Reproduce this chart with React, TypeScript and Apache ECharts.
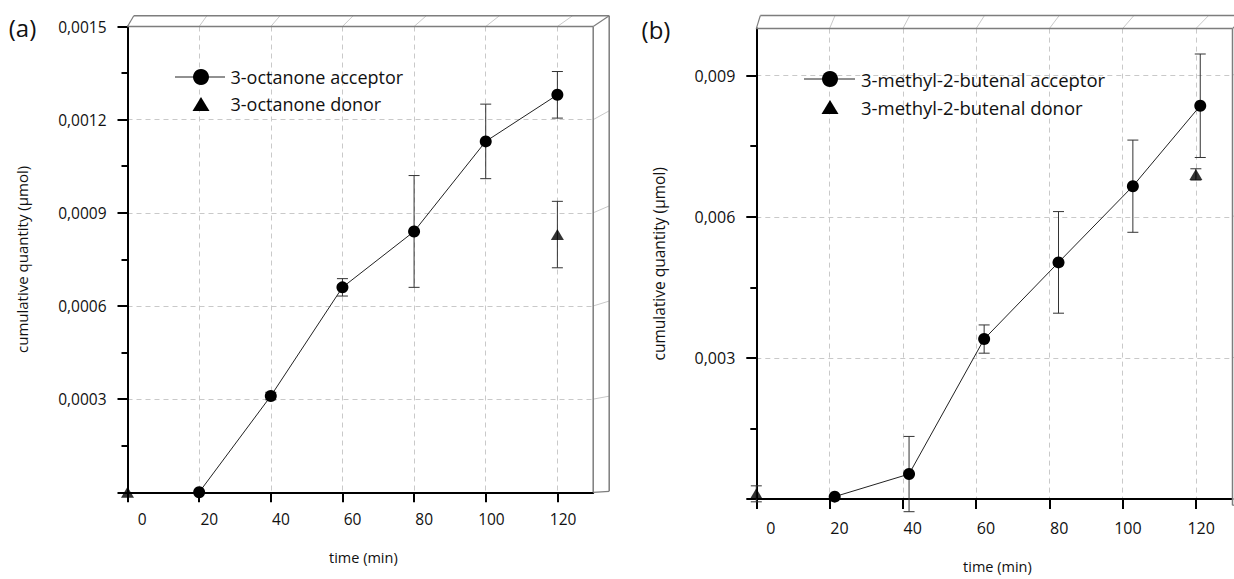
import React, { useEffect, useRef } from "react";
import * as echarts from "echarts";

const FONT = '"Open Sans", "Noto Sans", "DejaVu Sans", sans-serif';

// ---------- data ----------
const timeTicks = [0, 20, 40, 60, 80, 100, 120];

// panel (a): 3-octanone
const aAcceptorTime = [20, 40, 60, 80, 100, 120];
const aAcceptorQty = [0, 0.00031, 0.00066, 0.00084, 0.00113, 0.00128];
const aAcceptorErr = [0, 0.000012, 0.000028, 0.00018, 0.00012, 0.000075];
const aDonorTime = [0, 120];
const aDonorQty = [0, 0.00083];
const aDonorErr = [0, 0.000107];
const aYTicks = [0, 0.0003, 0.0006, 0.0009, 0.0012, 0.0015];
const aYLabels = ["", "0,0003", "0,0006", "0,0009", "0,0012", "0,0015"];

// panel (b): 3-methyl-2-butenal
const bAcceptorTime = [21.4, 41.7, 62.2, 82.5, 102.8, 121.2];
const bAcceptorQty = [0.00005, 0.00053, 0.0034, 0.00503, 0.00665, 0.00836];
const bAcceptorErr = [0, 0.0008, 0.0003, 0.00108, 0.00098, 0.0011];
const bDonorTime = [0, 120];
const bDonorQty = [0.00011, 0.0069];
const bDonorErr = [0.00017, 0.00012];
const bYTicks = [0, 0.003, 0.006, 0.009];
const bYLabels = ["", "0,003", "0,006", "0,009"];

const xTitle = "time (min)";
const yTitle = "cumulative quantity (µmol)";

// ---------- layout ----------
const panels = [
  {
    tag: "(a)",
    tagPos: [22.5, 27],
    grid: { left: 127.5, top: 26.5, width: 465.7, height: 465.8 },
    yMax: 0.0015,
    yInterval: 0.0003,
    yTicks: aYTicks,
    yLabels: aYLabels,
    accT: aAcceptorTime,
    accQ: aAcceptorQty,
    accE: aAcceptorErr,
    donT: aDonorTime,
    donQ: aDonorQty,
    donE: aDonorErr,
    accName: "3-octanone acceptor",
    donName: "3-octanone donor",
    legend: { x0: 175, x1: 225, cx: 201, y1: 77, y2: 104, tx: 230.5, fs: 18 },
    depth: { dx0: 6.3, dx1: 16, dy0: -10.8, dy1: -1 },
    tickFont: 15.5,
    yTitleFont: 15,
    yGap: 98,
    xGap: 58,
    xLabelMargin: 19,
  },
  {
    tag: "(b)",
    tagPos: [656, 29],
    grid: { left: 756.3, top: 28.6, width: 476.2, height: 476.7 },
    yMax: 0.01,
    yInterval: 0.003,
    yTicks: bYTicks,
    yLabels: bYLabels,
    accT: bAcceptorTime,
    accQ: bAcceptorQty,
    accE: bAcceptorErr,
    donT: bDonorTime,
    donQ: bDonorQty,
    donE: bDonorErr,
    accName: "3-methyl-2-butenal acceptor",
    donName: "3-methyl-2-butenal donor",
    legend: { x0: 804, x1: 855, cx: 830, y1: 79, y2: 107, tx: 861, fs: 18.5 },
    depth: { dx0: 4, dx1: 13.4, dy0: -13, dy1: -1 },
    tickFont: 16,
    yTitleFont: 15.5,
    yGap: 89,
    xGap: 60,
    xLabelMargin: 21,
  },
];

function buildOption() {
  const grids: any[] = [];
  const xAxes: any[] = [];
  const yAxes: any[] = [];
  const series: any[] = [];
  panels.forEach((p, i) => {
    grids.push({ ...p.grid, containLabel: false });
    xAxes.push({
      type: "value",
      gridIndex: i,
      min: 0,
      max: 130,
      interval: 20,
      axisLine: { show: true, onZero: false, lineStyle: { color: "#000", width: 2 } },
      axisTick: { show: true, length: 10, lineStyle: { color: "#000", width: 2 }, customValues: timeTicks },
      axisLabel: {
        customValues: timeTicks,
        align: "left",
        margin: p.xLabelMargin,
        color: "#111",
        fontFamily: FONT,
        fontSize: p.tickFont,
        formatter: (v: number) => (timeTicks.indexOf(v) >= 0 ? `{r|${v}}` : ""),
        rich: { r: { width: 19, align: "right", fontFamily: FONT, fontSize: p.tickFont, color: "#111" } },
      },
      splitLine: { show: true, lineStyle: { color: "#c9c9c9", width: 1, type: [5, 4] } },
      name: xTitle,
      nameLocation: "middle",
      nameGap: p.xGap,
      nameTextStyle: { color: "#111", fontFamily: FONT, fontSize: 14.5, padding: [0, 0, 0, 6] },
    });
    yAxes.push({
      type: "value",
      gridIndex: i,
      min: 0,
      max: p.yMax,
      interval: p.yInterval,
      axisLine: { show: true, onZero: false, lineStyle: { color: "#000", width: 2 } },
      axisTick: { show: true, length: 10, lineStyle: { color: "#000", width: 2 }, customValues: p.yTicks },
      minorTick: { show: true, splitNumber: 2, length: 6, lineStyle: { color: "#000", width: 2 } },
      axisLabel: {
        customValues: p.yTicks,
        margin: 21,
        color: "#111",
        fontFamily: FONT,
        fontSize: p.tickFont,
        formatter: (v: number) => {
          const k = p.yTicks.findIndex((t) => Math.abs(t - v) < 1e-9);
          return k >= 0 ? p.yLabels[k] : "";
        },
      },
      splitLine: { show: true, lineStyle: { color: "#c9c9c9", width: 1, type: [5, 4] } },
      name: yTitle,
      nameLocation: "middle",
      nameGap: p.yGap,
      nameRotate: 90,
      nameTextStyle: { color: "#111", fontFamily: FONT, fontSize: p.yTitleFont },
    });
    const errData = [
      ...p.accT.map((t, k) => [t, p.accQ[k], p.accE[k]]),
      ...p.donT.map((t, k) => [t, p.donQ[k], p.donE[k]]),
    ];
    series.push({
      type: "custom",
      xAxisIndex: i,
      yAxisIndex: i,
      clip: false,
      z: 3,
      silent: true,
      encode: { x: 0, y: 1 },
      data: errData,
      renderItem: (params: any, api: any) => {
        const x = api.value(0);
        const y = api.value(1);
        const e = api.value(2);
        if (!e) return { type: "group", children: [] };
        const top = api.coord([x, y + e]);
        const bot = api.coord([x, y - e]);
        const hw = 5.5;
        const style = { stroke: "#333", lineWidth: 1 };
        return {
          type: "group",
          children: [
            { type: "line", shape: { x1: top[0], y1: top[1], x2: bot[0], y2: bot[1] }, style },
            { type: "line", shape: { x1: top[0] - hw, y1: top[1], x2: top[0] + hw, y2: top[1] }, style },
            { type: "line", shape: { x1: bot[0] - hw, y1: bot[1], x2: bot[0] + hw, y2: bot[1] }, style },
          ],
        };
      },
    });
    series.push({
      type: "line",
      name: p.accName,
      xAxisIndex: i,
      yAxisIndex: i,
      clip: false,
      z: 5,
      symbol: "circle",
      symbolSize: 12,
      itemStyle: { color: "#000" },
      lineStyle: { color: "#222", width: 1 },
      data: p.accT.map((t, k) => [t, p.accQ[k]]),
    });
    series.push({
      type: "scatter",
      name: p.donName,
      xAxisIndex: i,
      yAxisIndex: i,
      clip: false,
      z: 5,
      symbol: "triangle",
      symbolSize: [13, 11],
      itemStyle: { color: "#000" },
      data: p.donT.map((t, k) => [t, p.donQ[k]]),
    });
  });
  return {
    animation: false,
    backgroundColor: "#fff",
    grid: grids,
    xAxis: xAxes,
    yAxis: yAxes,
    series,
  };
}

function buildGraphic(chart: any) {
  const els: any[] = [];
  panels.forEach((p, i) => {
    const g = p.grid;
    const L = g.left;
    const T = g.top;
    const R = g.left + g.width;
    const B = g.top + g.height;
    const d = p.depth;
    const back = (x: number, y: number) => [
      x + d.dx0 + ((x - L) / g.width) * (d.dx1 - d.dx0),
      y + d.dy0 + ((y - T) / g.height) * (d.dy1 - d.dy0),
    ];
    const line = (a: number[], b: number[], stroke: string, w: number) =>
      els.push({
        type: "line",
        silent: true,
        z: 1,
        shape: { x1: a[0], y1: a[1], x2: b[0], y2: b[1] },
        style: { stroke, lineWidth: w },
      });
    timeTicks.slice(1).forEach((t) => {
      const px = chart.convertToPixel({ gridIndex: i }, [t, 0])[0];
      line([px, T], back(px, T), "#c9c9c9", 1);
    });
    p.yTicks.slice(1).forEach((v) => {
      if (v >= p.yMax - 1e-12) return;
      const py = chart.convertToPixel({ gridIndex: i }, [0, v])[1];
      line([R, py], back(R, py), "#c9c9c9", 1);
    });
    const edge = "#7d7d7d";
    line([L, T], [R, T], edge, 1.5);
    line([R, T], [R, B], edge, 1.5);
    line(back(L, T), back(R, T), edge, 1.5);
    line(back(R, T), back(R, B), edge, 1.5);
    line([L, T], back(L, T), edge, 1.2);
    line([R, T], back(R, T), edge, 1.2);
    line([R, B], back(R, B), edge, 1.2);

    // legend
    const lg = p.legend;
    els.push({
      type: "line",
      z: 10,
      shape: { x1: lg.x0, y1: lg.y1, x2: lg.x1, y2: lg.y1 },
      style: { stroke: "#222", lineWidth: 1 },
    });
    els.push({ type: "circle", z: 11, shape: { cx: lg.cx, cy: lg.y1, r: 8 }, style: { fill: "#000" } });
    els.push({
      type: "polygon",
      z: 11,
      shape: {
        points: [
          [lg.cx, lg.y2 - 7],
          [lg.cx - 8.5, lg.y2 + 7],
          [lg.cx + 8.5, lg.y2 + 7],
        ],
      },
      style: { fill: "#000" },
    });
    [
      [p.accName, lg.y1],
      [p.donName, lg.y2],
    ].forEach(([txt, y]) =>
      els.push({
        type: "text",
        z: 11,
        x: lg.tx,
        y: y as number,
        style: {
          text: txt as string,
          fill: "#111",
          fontFamily: FONT,
          fontSize: lg.fs,
          align: "left",
          verticalAlign: "middle",
        },
      })
    );
    els.push({
      type: "text",
      z: 11,
      x: p.tagPos[0],
      y: p.tagPos[1],
      style: {
        text: p.tag,
        fill: "#111",
        fontFamily: FONT,
        fontSize: 24,
        align: "center",
        verticalAlign: "middle",
      },
    });
  });
  return els;
}

export default function App() {
  const ref = useRef<HTMLDivElement>(null);
  useEffect(() => {
    document.body.style.margin = "0";
    const chart = echarts.init(ref.current as HTMLDivElement, undefined, { renderer: "svg" });
    chart.setOption(buildOption() as any);
    chart.setOption({ graphic: buildGraphic(chart) } as any);
    return () => chart.dispose();
  }, []);
  return (
    <div
      ref={ref}
      style={{ position: "absolute", left: 0, top: 0, width: 1234, height: 579, background: "#fff" }}
    />
  );
}
